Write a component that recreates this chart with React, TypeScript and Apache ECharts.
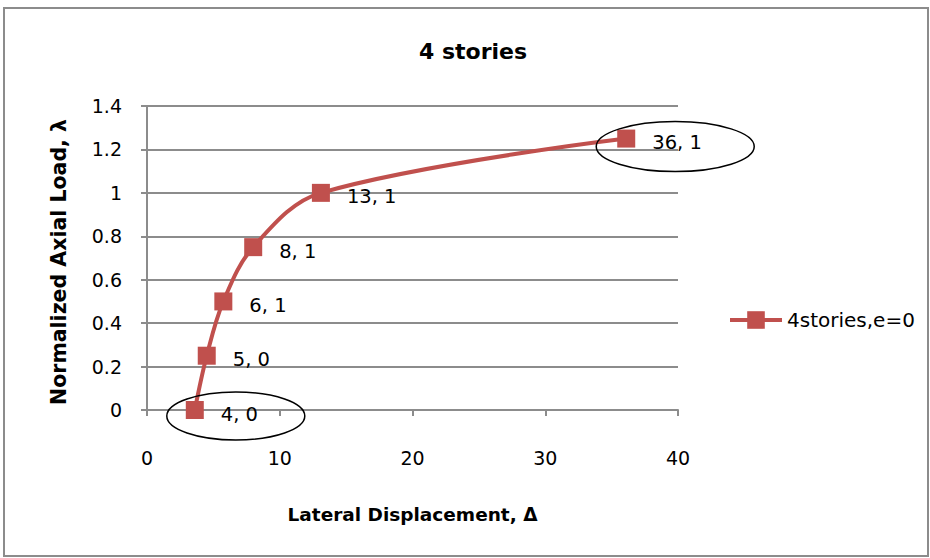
import React, { useEffect, useRef } from "react";
import * as echarts from "echarts";

const TITLE = "4 stories";
const SERIES_NAME = "4stories,e=0";
const X_NAME = "Lateral Displacement, Δ";
const Y_NAME = "Normalized Axial Load, λ";
const displacement = [3.6, 4.5, 5.75, 8.0, 13.1, 36.1];
const axialLoad = [0, 0.25, 0.5, 0.75, 1.0, 1.25];
const xTicks = [0, 10, 20, 30, 40];
const yTicks = [0, 0.2, 0.4, 0.6, 0.8, 1, 1.2, 1.4];
const circledPoints = [0, 5];

const FONT = "'DejaVu Sans', sans-serif";
const RED = "#C0504D";
const GRID_GRAY = "#8c8c8c";

export default function App() {
  const ref = useRef<HTMLDivElement>(null);
  useEffect(() => {
    if (!ref.current) return;
    const chart = echarts.init(ref.current, undefined, { renderer: "svg" });
    const data = displacement.map((x, i) => [x, axialLoad[i]]);
    chart.setOption({
      animation: false,
      backgroundColor: "#fff",
      textStyle: { fontFamily: FONT },
      title: {
        text: TITLE,
        left: 414,
        top: 35,
        textStyle: { fontFamily: FONT, fontSize: 22, fontWeight: "bold", color: "#000" },
      },
      legend: {
        left: 728,
        top: 310,
        padding: 0,
        orient: "vertical",
        itemWidth: 52,
        itemHeight: 22,
        data: [{ name: SERIES_NAME }],
        lineStyle: { width: 4 },
        textStyle: { fontFamily: FONT, fontSize: 20, color: "#000" },
      },
      grid: { left: 147, right: 252, top: 106, bottom: 148 },
      xAxis: {
        type: "value",
        min: xTicks[0],
        max: xTicks[xTicks.length - 1],
        interval: 10,
        name: X_NAME,
        nameLocation: "middle",
        nameGap: 95,
        nameTextStyle: { fontFamily: FONT, fontSize: 18.5, fontWeight: "bold", color: "#000" },
        axisLine: { show: true, lineStyle: { color: GRID_GRAY, width: 2 } },
        axisTick: { show: true, length: 6, lineStyle: { color: GRID_GRAY, width: 2 } },
        axisLabel: { margin: 38, fontSize: 19, color: "#000", fontFamily: FONT },
        splitLine: { show: false },
      },
      yAxis: {
        type: "value",
        min: yTicks[0],
        max: yTicks[yTicks.length - 1],
        interval: 0.2,
        name: Y_NAME,
        nameLocation: "middle",
        nameGap: 78,
        nameTextStyle: {
          fontFamily: FONT,
          fontSize: 20.5,
          fontWeight: "bold",
          color: "#000",
          padding: [0, 8, 0, 0],
        },
        axisLine: { show: true, lineStyle: { color: GRID_GRAY, width: 2 } },
        axisTick: { show: true, length: 6, lineStyle: { color: GRID_GRAY, width: 2 } },
        axisLabel: { margin: 25, fontSize: 19, color: "#000", fontFamily: FONT },
        splitLine: { show: true, lineStyle: { color: GRID_GRAY, width: 2 } },
      },
      series: [
        {
          name: SERIES_NAME,
          type: "line",
          data,
          smooth: 0.35,
          symbol: "rect",
          symbolSize: 18,
          itemStyle: { color: RED },
          lineStyle: { color: RED, width: 4 },
          label: {
            show: true,
            position: "right",
            distance: 17,
            offset: [0, 4],
            fontFamily: FONT,
            fontSize: 19.5,
            color: "#000",
            formatter: (p: any) => `${Math.round(p.value[0])}, ${Math.round(p.value[1])}`,
          },
        },
      ],
    });

    const ellipseSpecs = [
      { idx: circledPoints[0], dx: 41, dy: 6, rx: 69, ry: 24 },
      { idx: circledPoints[1], dx: 49, dy: 8, rx: 79, ry: 25 },
    ];
    const graphics: any[] = [
      {
        type: "rect",
        shape: { x: 4, y: 8, width: 924, height: 548 },
        style: { fill: "none", stroke: GRID_GRAY, lineWidth: 2 },
        z: -1,
      },
    ];
    ellipseSpecs.forEach((s) => {
      const px = chart.convertToPixel({ gridIndex: 0 }, data[s.idx]) as number[];
      graphics.push({
        type: "ellipse",
        shape: { cx: px[0] + s.dx, cy: px[1] + s.dy, rx: s.rx, ry: s.ry },
        style: { fill: "none", stroke: "#000", lineWidth: 1.5 },
        z: 100,
      });
    });
    chart.setOption({ graphic: graphics });

    return () => chart.dispose();
  }, []);
  return (
    <div
      ref={ref}
      style={{ position: "fixed", left: 0, top: 0, width: 930, height: 558 }}
    />
  );
}
